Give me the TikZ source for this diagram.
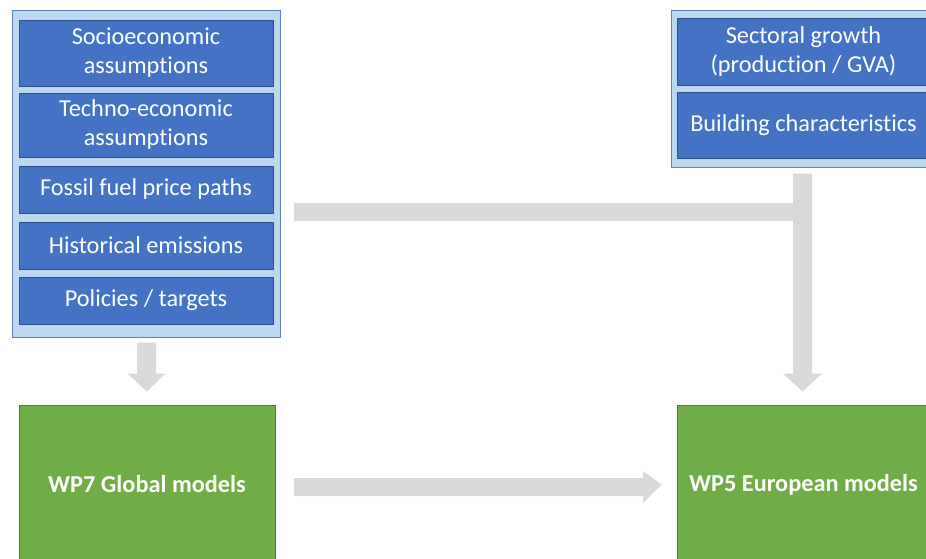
\documentclass[tikz,border=0pt]{standalone}
\usepackage{fontspec}
\setmainfont{Carlito}[Ligatures=NoCommon]
\usetikzlibrary{calc}
\definecolor{outerfill}{HTML}{BDD7EE}
\definecolor{outerdraw}{HTML}{5B82C4}
\definecolor{innerfill}{HTML}{4472C4}
\definecolor{innerdraw}{HTML}{2F528F}
\definecolor{greenfill}{HTML}{70AD47}
\definecolor{greendraw}{HTML}{5A6E50}
\definecolor{arrowgray}{HTML}{D9D9D9}
\tikzset{
  outerbox/.style={draw=outerdraw, fill=outerfill, line width=1pt, inner sep=0pt},
  innerbox/.style={draw=innerdraw, fill=innerfill, line width=0.8pt, inner sep=0pt,
    text=white, align=center, font=\fontsize{24.3}{29}\selectfont},
  greenbox/.style={draw=greendraw, fill=greenfill, line width=0.8pt, inner sep=0pt,
    text=white, align=center, font=\fontsize{24.3}{29}\selectfont\bfseries},
  grayarrow/.style={fill=arrowgray, draw=none}
}
\begin{document}
\begin{tikzpicture}[x=1pt, y=-1pt]
\useasboundingbox (0,0) rectangle (926,558);
% left group
\node[outerbox, minimum width=268pt, minimum height=327pt] (outerL) at (146,173.5) {};
\node[innerbox, minimum width=254pt, minimum height=66pt] (soc) at (146,53) {Socioeconomic\\assumptions};
\node[innerbox, minimum width=254pt, minimum height=64pt] (tech) at (146,125) {Techno-economic\\assumptions};
\node[innerbox, minimum width=254pt, minimum height=47pt] (fossil) at (146,189.5) {Fossil fuel price paths};
\node[innerbox, minimum width=254pt, minimum height=47pt] (hist) at (146,245.5) {Historical emissions};
\node[innerbox, minimum width=254pt, minimum height=47pt] (pol) at (146,300.5) {Policies / targets};
% right group
\node[outerbox, minimum width=269pt, minimum height=157pt] (outerR) at (805.5,88.5) {};
\node[innerbox, minimum width=253pt, minimum height=67pt] (sect) at (803.5,51.5) {Sectoral growth\\(production / GVA)};
\node[innerbox, minimum width=253pt, minimum height=66pt] (build) at (803.5,125) {Building characteristics};
% green boxes
\node[greenbox, minimum width=256pt, minimum height=158pt] (wp7) at (147,484) {WP7 Global models};
\node[greenbox, minimum width=253pt, minimum height=159pt] (wp5) at (803.5,484.5) {WP5 European models};
% coordinates for arrows
\coordinate (dL) at ($(outerL.south)+(0.5,5)$);
\coordinate (hS) at (294,212);
\coordinate (vT) at ($(outerR.south)+(-3,6)$);
\coordinate (gS) at (294,487);
% left down arrow
\fill[grayarrow] ($(dL)+(-9.5,0)$) -- ($(dL)+(9.5,0)$) -- ($(dL)+(9.5,31)$) -- ($(dL)+(19,31)$)
  -- ($(wp7.north)+(0,-13)$) -- ($(dL)+(-19,31)$) -- ($(dL)+(-9.5,31)$) -- cycle;
% horizontal bar into vertical arrow
\fill[grayarrow] ($(hS)+(0,-9)$) rectangle (794,221);
\fill[grayarrow] ($(vT)+(-9.5,0)$) -- ($(vT)+(9.5,0)$) -- ($(vT)+(9.5,200)$) -- ($(vT)+(19.5,200)$)
  -- ($(wp5.north)+(-1,-13)$) -- ($(vT)+(-19.5,200)$) -- ($(vT)+(-9.5,200)$) -- cycle;
% bottom horizontal arrow
\fill[grayarrow] ($(gS)+(0,-9)$) -- ($(gS)+(349,-9)$) -- ($(gS)+(349,-16)$) -- ($(wp5.west)+(-15,0)$)
  -- ($(gS)+(349,16)$) -- ($(gS)+(349,9)$) -- ($(gS)+(0,9)$) -- cycle;
\end{tikzpicture}
\end{document}
